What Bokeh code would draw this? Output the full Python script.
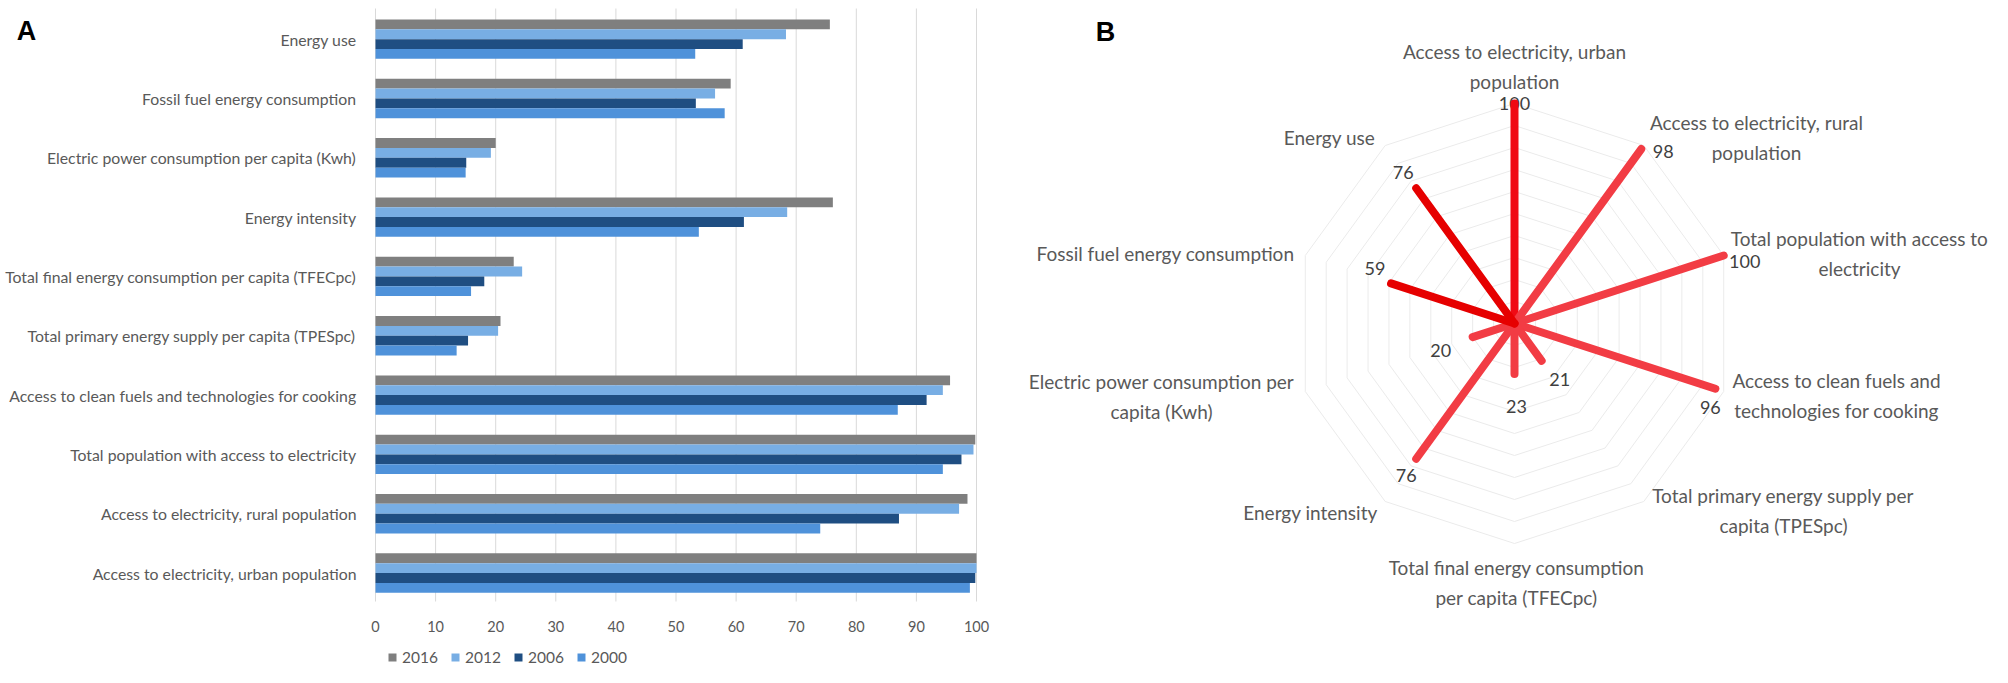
import math
from bokeh.plotting import figure
from bokeh.models import Range1d, FixedTicker, Legend, LegendItem, Label, ColumnDataSource
from bokeh.embed import file_html
from bokeh.resources import INLINE
from bokeh.core.properties import value

# ---------------- data ----------------
categories = [
    "Energy use",
    "Fossil fuel energy consumption",
    "Electric power consumption per capita (Kwh)",
    "Energy intensity",
    "Total final energy consumption per capita (TFECpc)",
    "Total primary energy supply per capita (TPESpc)",
    "Access to clean fuels and technologies for cooking",
    "Total population with access to electricity",
    "Access to electricity, rural population",
    "Access to electricity, urban population",
]
v2016 = [75.6, 59.1, 20.0, 76.1, 23.0, 20.8, 95.6, 99.8, 98.5, 100.0]
v2012 = [68.3, 56.5, 19.2, 68.5, 24.4, 20.4, 94.4, 99.5, 97.1, 100.0]
v2006 = [61.1, 53.3, 15.1, 61.3, 18.1, 15.4, 91.7, 97.5, 87.1, 99.8]
v2000 = [53.2, 58.1, 15.0, 53.8, 15.9, 13.5, 86.9, 94.4, 74.0, 98.9]
years = ["2016", "2012", "2006", "2000"]
x_ticks = [0, 10, 20, 30, 40, 50, 60, 70, 80, 90, 100]

radar_labels = [
    "Access to electricity, urban\npopulation",
    "Access to electricity, rural\npopulation",
    "Total population with access to\nelectricity",
    "Access to clean fuels and\ntechnologies for cooking",
    "Total primary energy supply per\ncapita (TPESpc)",
    "Total final energy consumption\nper capita (TFECpc)",
    "Energy intensity",
    "Electric power consumption per\ncapita (Kwh)",
    "Fossil fuel energy consumption",
    "Energy use",
]
radar_values = [100, 98, 100, 96, 21, 23, 76, 20, 59, 76]
radar_rings = [10, 20, 30, 40, 50, 60, 70, 80, 90, 100]

# ---------------- styles / layout ----------------
bar_colors = ["#7f7f7f", "#78aee4", "#1f4e82", "#4f92da"]
bar_offsets = [0.249, 0.083, -0.083, -0.249]
BAR_H = 0.166
GRAY_TXT = "#595959"
FONT = "Lato"

W, H = 1992, 667
OFF = 1   # canvas px = picture px - OFF

# bar chart geometry (canvas px)
X0_PX, PX_PER_X = 376 - OFF, 6.01         # value 0 position, px per unit
TOP_CAT_PX, CAT_PX = 39.65 - OFF, 59.32   # centre of first category, px per category
n_cat = len(categories)
y_of_px = lambda py: (n_cat - 1) - (py - TOP_CAT_PX) / CAT_PX

# radar geometry
S = 2.2                           # px per radar unit
RCX, RCY = 1515 - OFF, 324 - OFF  # radar centre, canvas px

p = figure(width=W, height=H, output_backend="svg", toolbar_location=None,
           x_range=Range1d(-X0_PX / PX_PER_X, (W - X0_PX) / PX_PER_X),
           y_range=Range1d(y_of_px(H), y_of_px(0)),
           min_border=0)
p.extra_x_ranges = {"rx": Range1d(-RCX / S, (W - RCX) / S)}
p.extra_y_ranges = {"ry": Range1d(-(H - RCY) / S, RCY / S)}
p.outline_line_color = None
p.grid.visible = False

# ---- bar chart ----
ypos = [(n_cat - 1) - i for i in range(n_cat)]
p.segment(x0=x_ticks, x1=x_ticks,
          y0=[y_of_px(602 - OFF)] * len(x_ticks), y1=[y_of_px(9 - OFF)] * len(x_ticks),
          line_color="#d9d9d9", line_width=1)

renderers = []
for yr, vals, col, off in zip(years, [v2016, v2012, v2006, v2000], bar_colors, bar_offsets):
    src = ColumnDataSource(dict(y=[yy + off for yy in ypos], right=vals))
    r = p.hbar(y="y", right="right", left=0, height=BAR_H, source=src, fill_color=col, line_color=None)
    renderers.append(r)

xax = p.xaxis[0]
xax.fixed_location = y_of_px(607 - OFF)
xax.ticker = FixedTicker(ticks=x_ticks)
yax = p.yaxis[0]
yax.fixed_location = 0
yax.ticker = FixedTicker(ticks=ypos)
yax.major_label_overrides = {yy: c for yy, c in zip(ypos, categories)}
for ax in (xax, yax):
    ax.axis_line_color = None
    ax.major_tick_line_color = None
    ax.minor_tick_line_color = None
    ax.major_label_text_font = FONT
    ax.major_label_text_color = GRAY_TXT
xax.major_label_text_font_size = "14.5px"
yax.major_label_text_font_size = "15.8px"
xax.major_label_standoff = 8
yax.major_label_standoff = 13

legend = Legend(items=[LegendItem(label=yr, renderers=[r]) for yr, r in zip(years, renderers)],
                orientation="horizontal", location=(X0_PX + 12, 1),
                glyph_width=10, glyph_height=10, label_standoff=5, spacing=12, padding=0, margin=0,
                label_height=14, label_text_font=FONT, label_text_font_size="15.5px",
                label_text_color=GRAY_TXT, border_line_color=None, background_fill_alpha=0)
p.add_layout(legend)

p.add_layout(Label(x=27 - OFF, y=H - (31 - OFF), x_units="screen", y_units="screen", text="A",
                   text_font="Liberation Sans", text_font_style="bold", text_font_size="27px",
                   text_align="center", text_baseline="middle", text_color="black"))
p.add_layout(Label(x=1106 - OFF, y=H - (32 - OFF), x_units="screen", y_units="screen", text="B",
                   text_font="Liberation Sans", text_font_style="bold", text_font_size="27px",
                   text_align="center", text_baseline="middle", text_color="black"))

# ---- radar chart ----
n = len(radar_values)
angles = [math.radians(90 - 360.0 * k / n) for k in range(n)]

ring_xs, ring_ys = [], []
for rr in radar_rings:
    ring_xs.append([rr * math.cos(a) for a in angles] + [rr * math.cos(angles[0])])
    ring_ys.append([rr * math.sin(a) for a in angles] + [rr * math.sin(angles[0])])
p.multi_line(xs=ring_xs, ys=ring_ys, line_color="#ebebeb", line_width=1,
             x_range_name="rx", y_range_name="ry")

# category label positions (px offsets from centre, y downward)
cat_off = [(0, -257), (242, -186), (345, -70), (322, 72), (269, 187),
           (2, 259), (-204, 189), (-353, 73), (-349, -70), (-185, -186)]
p.text(x=[dx / S for dx, dy in cat_off], y=[-dy / S for dx, dy in cat_off], text=radar_labels,
       text_font=value(FONT), text_font_size="19px", text_color=GRAY_TXT,
       text_align="center", text_baseline="middle", text_line_height=1.32,
       x_range_name="rx", y_range_name="ry")

ends_x = [v * math.cos(a) for v, a in zip(radar_values, angles)]
ends_y = [v * math.sin(a) for v, a in zip(radar_values, angles)]
val_off = [(0, 0), (22, 2), (21, 6), (-5, 19), (18, 19), (2, 32), (-10, 17), (-32, 13), (-16, -15), (-13, -16)]
p.text(x=[ex + dx / S for ex, (dx, dy) in zip(ends_x, val_off)],
       y=[ey - dy / S for ey, (dx, dy) in zip(ends_y, val_off)],
       text=[str(v) for v in radar_values],
       text_font=value(FONT), text_font_size="18px", text_color="#404040",
       text_align="center", text_baseline="middle",
       x_range_name="rx", y_range_name="ry")

line_cols = ["#f00a14", "#f23c44", "#f23c44", "#f23c44", "#f23c44",
             "#f23c44", "#f23c44", "#f23c44", "#e60000", "#e60000"]
p.segment(x0=[0] * n, y0=[0] * n, x1=ends_x, y1=ends_y, line_color=line_cols,
          line_width=8, line_cap="round", x_range_name="rx", y_range_name="ry")

open("out.html", "w").write(file_html(p, INLINE))
